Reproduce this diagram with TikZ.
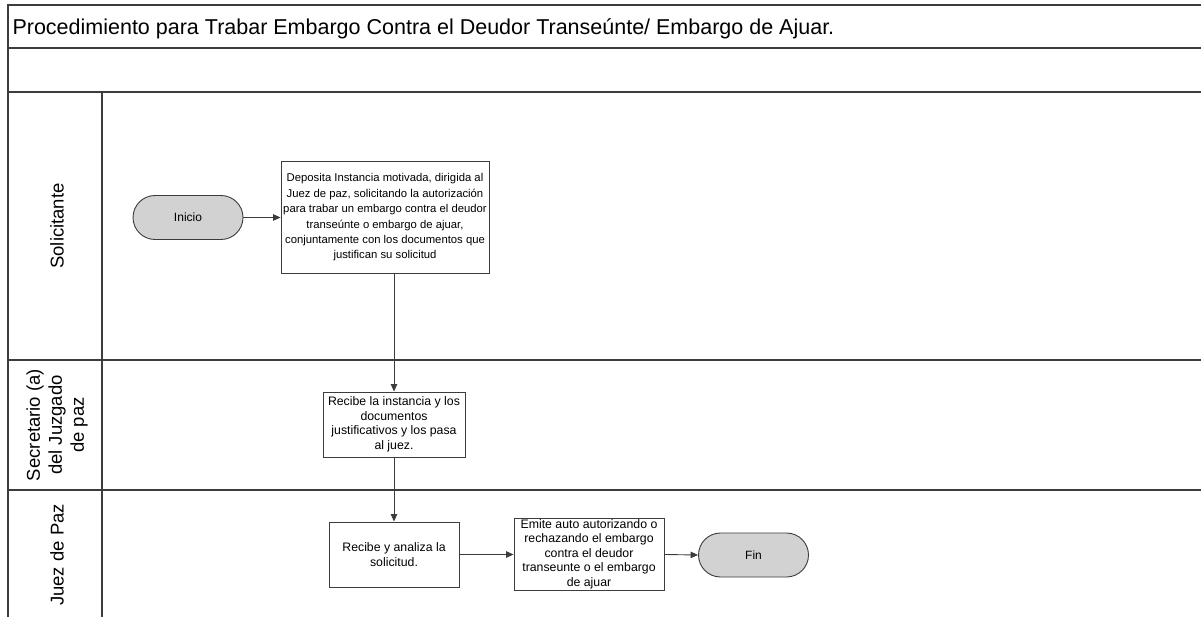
\documentclass[tikz,border=0pt]{standalone}
\usepackage{fontspec}
\setmainfont{Liberation Sans}
\usetikzlibrary{arrows.meta,positioning}
\definecolor{linegray}{HTML}{3C3C3C}
\definecolor{termfill}{HTML}{D2D2D2}
\begin{document}
\begin{tikzpicture}[x=1pt,y=-1pt,
  lane/.style={draw=linegray,line width=1.3pt},
  stepbox/.style={draw=linegray,line width=0.9pt,fill=white,align=center,
    font=\fontsize{12.3}{14.5}\selectfont,inner sep=2pt},
  terminal/.style={draw=linegray,line width=0.9pt,fill=termfill,
    rounded corners=22pt,minimum width=110pt,minimum height=44pt,
    font=\fontsize{12}{14.3}\selectfont},
  flow/.style={draw=linegray,line width=0.9pt,-{Triangle[length=7.5pt,width=6.5pt]}},
  lanelabel/.style={rotate=90,align=center,font=\fontsize{18.5}{22}\selectfont}]
\useasboundingbox (0,0) rectangle (1201,617);

% frame: title row, empty row and three swimlanes
\draw[lane] (1201,5) -- (8,5) -- (8,617);
\draw[lane] (8,48) -- (1201,48);
\draw[lane] (8,92) -- (1201,92);
\draw[lane] (8,360) -- (1201,360);
\draw[lane] (8,490) -- (1201,490);
\draw[lane] (102,92) -- (102,617);

\node[anchor=west,font=\fontsize{21.5}{25}\selectfont] (title) at (9,28.5)
  {Procedimiento para Trabar Embargo Contra el Deudor Transeúnte/ Embargo de Ajuar.};

% lane names
\node[lanelabel] (lsol) at (57,226) {Solicitante};
\node[lanelabel] (lsec) at (57,425) {Secretario (a)\\del Juzgado\\de paz};
\node[lanelabel] (ljuez) at (57,555) {Juez de Paz};

% process steps
\node[terminal] (inicio) at (188,217.5) {Inicio};
\node[stepbox,minimum width=208pt,minimum height=112pt,
  font=\fontsize{11.3}{15.4}\selectfont] (dep) at (385,217.5)
  {Deposita Instancia motivada, dirigida al\\Juez de paz, solicitando la autorización\\para trabar un embargo contra el deudor\\transeúnte o embargo de ajuar,\\conjuntamente con los documentos que\\justifican su solicitud};
\node[stepbox,minimum width=142pt,minimum height=65pt] (sec) at (394,424.5)
  {Recibe la instancia y los\\documentos\\justificativos y los pasa\\al juez.};
\node[stepbox,minimum width=130pt,minimum height=65pt] (rec) at (394,554.5)
  {Recibe y analiza la\\solicitud.};
\node[stepbox,minimum width=150pt,minimum height=72pt,inner sep=0pt] (emi) at (589,554)
  {Emite auto autorizando o\\rechazando el embargo\\contra el deudor\\transeunte o el embargo\\de ajuar};
\node[terminal] (fin) at (753.5,555) {Fin};

% connectors
\draw[flow] (inicio.east) -- (dep.west |- inicio.east);
\draw[flow] (sec.north |- dep.south) -- (sec.north);
\draw[flow] (sec.south) -- (rec.north);
\draw[flow] (rec.east) -- (emi.west |- rec.east);
\draw[flow] (emi.east |- rec.east) -- (fin.west);
\end{tikzpicture}
\end{document}
